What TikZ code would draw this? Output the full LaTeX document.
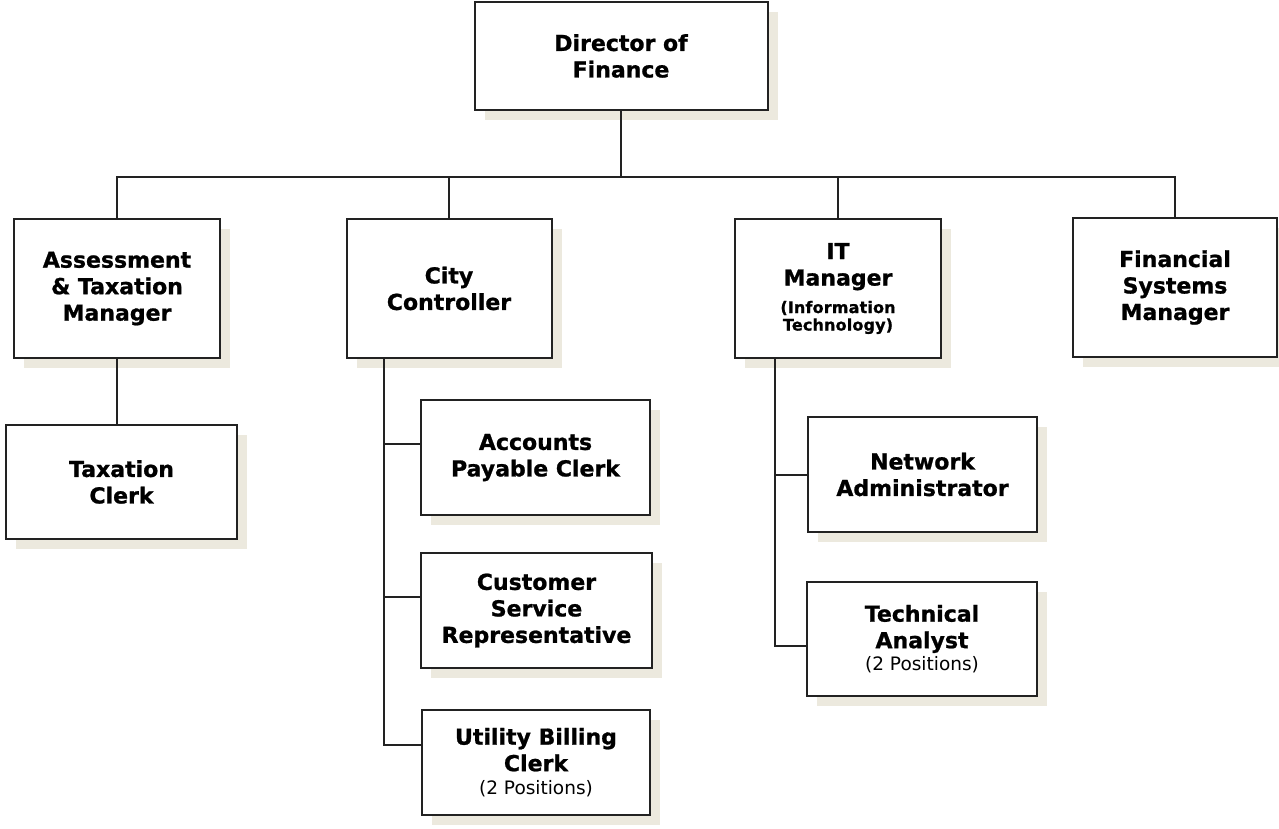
\documentclass[tikz,border=0pt]{standalone}
\usepackage{fontspec}
\setmainfont{DejaVu Sans}[BoldFeatures={FakeBold=1}]
\newfontfamily\lsfont{DejaVu Sans}[LetterSpace=1,BoldFeatures={FakeBold=1}]
\usetikzlibrary{shadows}
\definecolor{shadowc}{RGB}{236,233,222}
\definecolor{edgec}{RGB}{34,34,34}
\newcommand\posn{\mdseries\fontsize{18.5}{22}\selectfont}
\newcommand\itsmall{\lsfont\bfseries\fontsize{16}{17}\selectfont}
\tikzset{
  box/.style={draw=edgec, line width=2pt, fill=white, inner sep=0pt, align=center,
    general shadow={fill=shadowc, shadow xshift=10pt, shadow yshift=-10pt},
    font=\bfseries\fontsize{22}{26.5}\selectfont},
  conn/.style={draw=edgec, line width=2pt},
}
\begin{document}
\begin{tikzpicture}[x=1pt,y=-1pt]
\useasboundingbox (0,0) rectangle (1279,829);
% boxes
\node[box, minimum width=293, minimum height=108] (dir) at (621,56) {Director of\\Finance};
\node[box, minimum width=206, minimum height=139] (ass) at (117,288.5) {Assessment\\\& Taxation\\Manager};
\node[box, minimum width=205, minimum height=139] (cc) at (449,288.5) {City\\Controller};
\node[box, minimum width=206, minimum height=139] (it) at (838,288.5) {IT\\Manager\\[1pt]{\itsmall (Information}\\[-9pt]{\itsmall Technology)}};
\node[box, minimum width=204, minimum height=139] (fs) at (1175,287.5) {Financial\\Systems\\Manager};
\node[box, minimum width=231, minimum height=114] (tax) at (121.5,482) {Taxation\\Clerk};
\node[box, minimum width=229, minimum height=115] (ap) at (535.5,457.5) {Accounts\\Payable Clerk};
\node[box, minimum width=231, minimum height=115] (cs) at (536.5,610.5) {Customer\\Service\\Representative};
\node[box, minimum width=228, minimum height=105] (ub) at (536,762.5) {Utility Billing\\Clerk\\[-3pt]{\posn (2 Positions)}};
\node[box, minimum width=229, minimum height=115] (na) at (922.5,474.5) {Network\\Administrator};
\node[box, minimum width=230, minimum height=114] (ta) at (922,639) {Technical\\Analyst\\[-4pt]{\posn (2 Positions)}};
% connectors
\coordinate (bus) at (621,177);
\coordinate (ccx) at (384,0);
\coordinate (itx) at (775,0);
\draw[conn] (dir.south) -- (dir.south |- bus);
\draw[conn] (ass.north) |- (bus) -| (fs.north);
\draw[conn] (cc.north) -- (cc.north |- bus);
\draw[conn] (it.north) -- (it.north |- bus);
\draw[conn] (ass.south) -- (ass.south |- tax.north);
\draw[conn] ([yshift=13.5pt]ap.west) -| (cc.south -| ccx);
\draw[conn] ([yshift=13.5pt]cs.west) -| (cc.south -| ccx);
\draw[conn] ([yshift=17.5pt]ub.west) -| (cc.south -| ccx);
\draw[conn] ([yshift=-0.5pt]na.west) -| (it.south -| itx);
\draw[conn] ([yshift=-7pt]ta.west) -| (it.south -| itx);
\end{tikzpicture}
\end{document}
